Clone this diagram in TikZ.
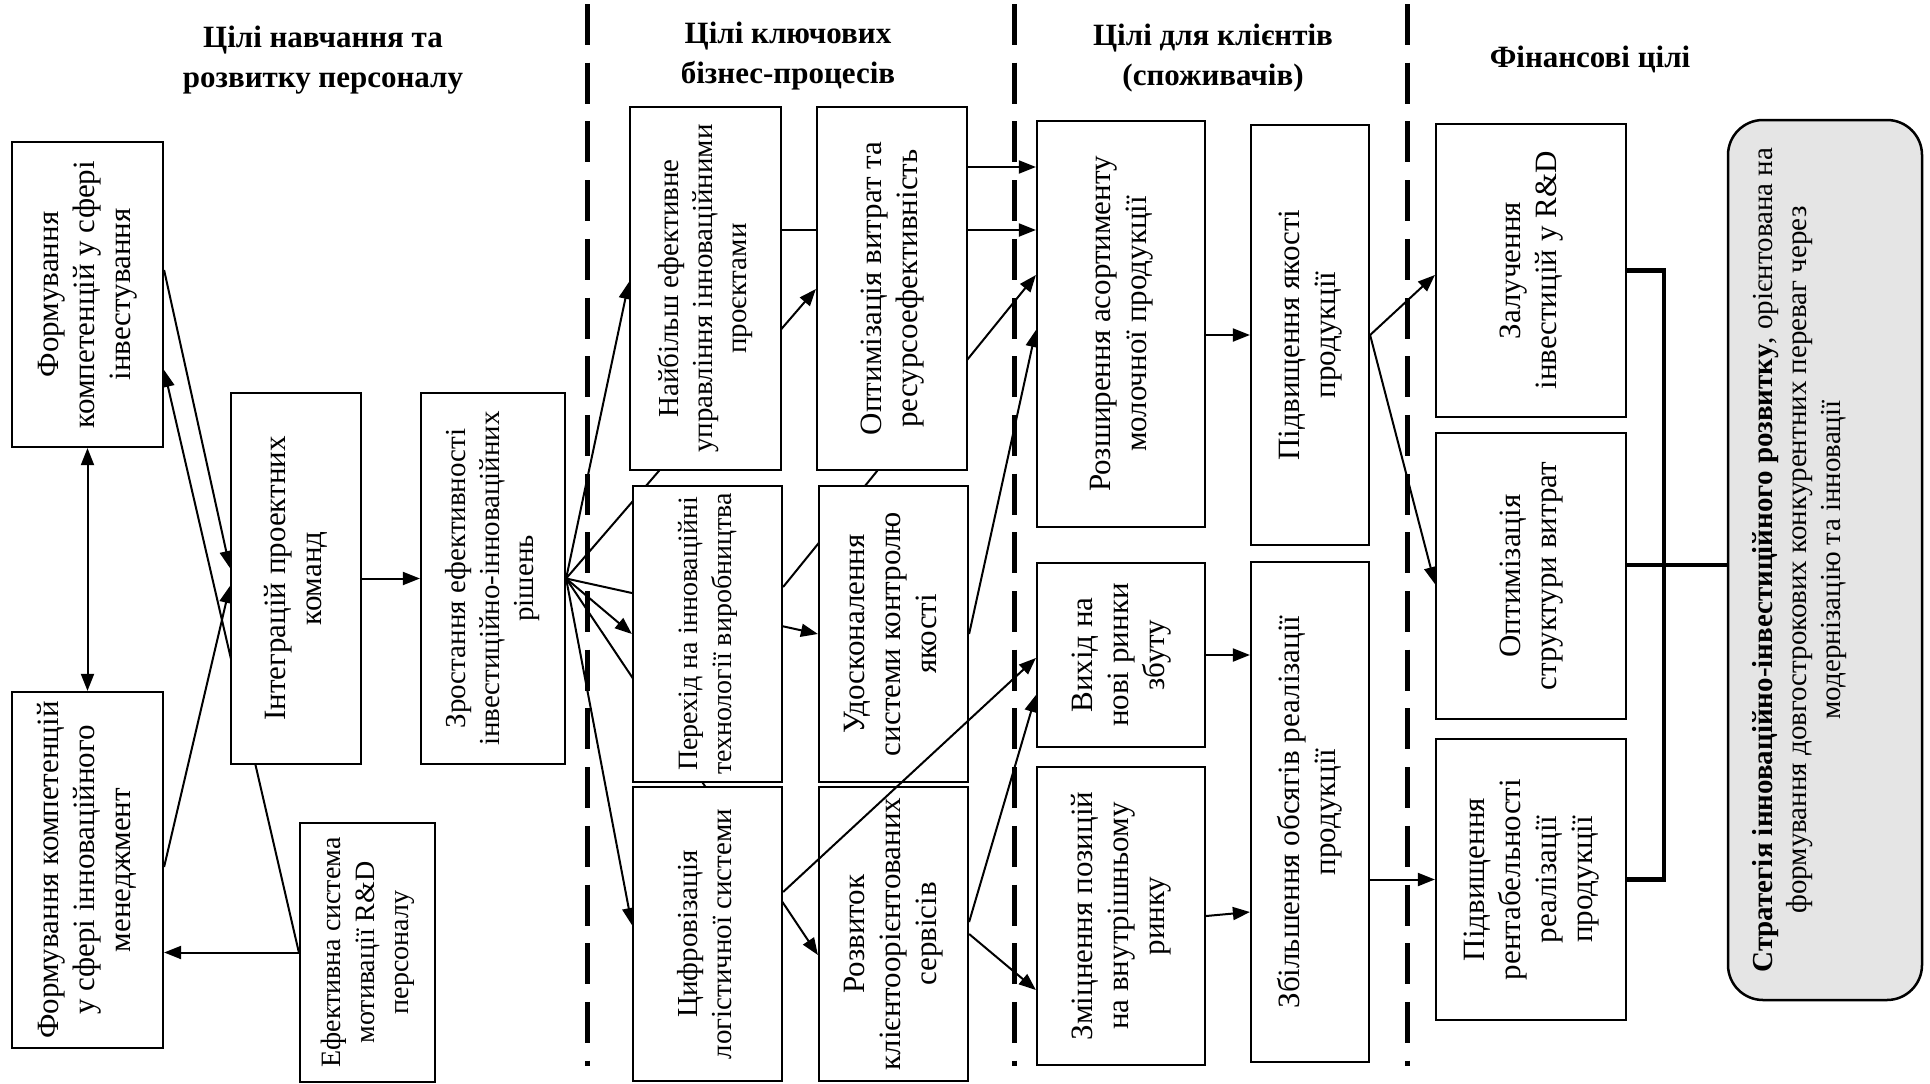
\documentclass[tikz,border=0pt]{standalone}
\usepackage{fontspec}
\setmainfont{Liberation Serif}
\usepackage{graphicx}
\usetikzlibrary{arrows.meta}

\pgfdeclarelayer{bg}
\pgfsetlayers{bg,main}

\newcommand{\vtext}[1]{\rotatebox{90}{\begin{tabular}{@{}c@{}}#1\end{tabular}}}

\tikzset{
  goalbox/.style={draw, line width=2.2pt, fill=white, inner sep=0pt,
    font=\fontsize{31}{36}\selectfont},
  smalltext/.style={font=\fontsize{29}{34}\selectfont},
  tinytext/.style={font=\fontsize{28}{34}\selectfont},
  lanetitle/.style={font=\fontsize{31}{40}\selectfont\bfseries, align=center},
  goalarrow/.style={line width=2pt, -{Triangle[length=17pt,width=13pt]}},
  goalline/.style={line width=2pt},
  lane/.style={line width=5pt, dash pattern=on 41pt off 17.7pt},
  stratbox/.style={draw, line width=2.5pt, fill=black!10, rounded corners=35pt},
  bracket/.style={line width=4.5pt}
}

\begin{document}
\begin{tikzpicture}[x=1pt,y=-1pt]
  \useasboundingbox (0,0) rectangle (1930,1084);

  % lane titles
  \node[lanetitle] (t1) at (323,60) {Цілі навчання та\\розвитку персоналу};
  \node[lanetitle] (t2) at (788,56) {Цілі ключових\\бізнес-процесів};
  \node[lanetitle] (t3) at (1213,58) {Цілі для клієнтів\\(споживачів)};
  \node[lanetitle] (t4) at (1590,59) {Фінансові цілі};

  % staff goals
  \node[goalbox, minimum width=151pt, minimum height=305pt] (A1) at (87.5,294.5)
    {\vtext{Формування\\компетенцій у сфері\\інвестування}};
  \node[goalbox, minimum width=151pt, minimum height=356pt] (A2) at (87.5,870)
    {\vtext{Формування компетенцій\\у сфері інноваційного\\менеджмент}};
  \node[goalbox, minimum width=130pt, minimum height=371pt] (B) at (296,578.5)
    {\vtext{Інтеграцій проектних\\команд}};
  \node[goalbox, smalltext, minimum width=144pt, minimum height=371pt] (C) at (493,578.5)
    {\vtext{Зростання ефективності\\інвестиційно-інноваційних\\рішень}};
  \node[goalbox, tinytext, minimum width=135pt, minimum height=259pt] (D) at (367.5,952.5)
    {\vtext{Ефективна система\\мотивації R\&D\\персоналу}};

  % business processes
  \node[goalbox, smalltext, minimum width=151pt, minimum height=363pt] (E1) at (705.5,288.5)
    {\vtext{Найбільш ефективне\\управління інноваційними\\проєктами}};
  \node[goalbox, tinytext, minimum width=149pt, minimum height=296pt] (E2) at (707.5,634)
    {\vtext{Перехід на інноваційні\\технології виробництва}};
  \node[goalbox, smalltext, minimum width=149pt, minimum height=294pt] (E3) at (707.5,934)
    {\vtext{Цифровізація\\логістичної системи}};
  \node[goalbox, minimum width=150pt, minimum height=363pt] (F1) at (892,288.5)
    {\vtext{Оптимізація витрат та\\ресурсоефективність}};
  \node[goalbox, minimum width=149pt, minimum height=296pt] (F2) at (893.5,634)
    {\vtext{Удосконалення\\системи контролю\\якості}};
  \node[goalbox, minimum width=149pt, minimum height=294pt] (F3) at (893.5,934)
    {\vtext{Розвиток\\клієнтоорієнтованих\\сервісів}};

  % customers
  \node[goalbox, minimum width=168pt, minimum height=406pt] (G1) at (1121,324)
    {\vtext{Розширення асортименту\\молочної продукції}};
  \node[goalbox, minimum width=168pt, minimum height=184pt] (G2) at (1121,655)
    {\vtext{Вихід на\\нові ринки\\збуту}};
  \node[goalbox, minimum width=168pt, minimum height=298pt] (G3) at (1121,916)
    {\vtext{Зміцнення позицій\\на внутрішньому\\ринку}};
  \node[goalbox, minimum width=118pt, minimum height=420pt] (H1) at (1310,335)
    {\vtext{Підвищення якості\\продукції}};
  \node[goalbox, minimum width=118pt, minimum height=500pt] (H2) at (1310,812)
    {\vtext{Збільшення обсягів реалізації\\продукції}};

  % finance
  \node[goalbox, minimum width=190pt, minimum height=293pt] (I1) at (1531,270.5)
    {\vtext{Залучення\\інвестицій у R\&D}};
  \node[goalbox, minimum width=190pt, minimum height=286pt] (I2) at (1531,576)
    {\vtext{Оптимізація\\структури витрат}};
  \node[goalbox, minimum width=190pt, minimum height=281pt] (I3) at (1531,879.5)
    {\vtext{Підвищення\\рентабельності\\реалізації\\продукції}};

  % strategy
  \node[stratbox, minimum width=194pt, minimum height=880pt,
    label={[xshift=-25pt, font=\fontsize{29}{34}\selectfont]center:{\vtext{\textbf{Стратегія інноваційно-інвестиційного розвитку}, орієнтована на\\формування довгострокових конкурентних переваг через\\модернізацію та інновації}}}]
    (J) at (1825,560) {};

  \begin{pgfonlayer}{bg}
    \draw[lane] (587,4) -- (587,1066);
    \draw[lane] (1014,4) -- (1014,1066);
    \draw[lane] (1407,4) -- (1407,1066);

    \draw[line width=2pt, {Triangle[length=17pt,width=13pt]}-{Triangle[length=17pt,width=13pt]}] (A1.south) -- (A2.north);
    \draw[goalarrow] (A1.east |- 0,270) -- (B.west |- 0,568);
    \draw[goalarrow] (A2.east |- 0,867) -- (B.west |- 0,586);
    \draw[goalarrow] (D.west) -- (A1.east |- 0,370);
    \draw[goalarrow] (D.west) -- (D.west -| A2.east);
    \draw[goalarrow] (B.east) -- (C.west);

    \draw[goalarrow] (C.east) -- (E1.west |- 0,282);
    \draw[goalarrow] (C.east) -- (F1.west |- 0,289);
    \draw[goalarrow] (C.east) -- (E2.west);
    \draw[goalarrow] (C.east) -- (F2.west);
    \draw[goalarrow] (C.east) -- (F3.west |- 0,955);
    \draw[goalarrow] (C.east) -- (E3.west |- 0,925);

    \draw[goalarrow] (E1.east |- 0,230) -- (G1.west |- 0,230);
    \draw[goalarrow] (E2.east |- 0,587) -- (G1.west |- 0,275);
    \draw[goalarrow] (F1.east |- 0,167) -- (G1.west |- 0,167);
    \draw[goalarrow] (F2.east) -- (G1.west |- 0,330);
    \draw[goalarrow] (F3.east |- 0,922) -- (G2.west |- 0,695);
    \draw[goalarrow] (F3.east) -- (G3.west |- 0,990);

    \draw[goalarrow] (H1.west -| G1.east) -- (H1.west);
    \draw[goalarrow] (G2.east) -- (G2.east -| H2.west);
    \draw[goalarrow] (G3.east) -- (H2.west |- 0,912);
    \draw[goalarrow] (H1.east) -- (I1.west |- 0,275);
    \draw[goalarrow] (H1.east) -- (I2.west |- 0,584);
    \draw[goalarrow] (I3.west -| H2.east) -- (I3.west);

    \draw[bracket] (I1.east) -- ++(37,0) |- (I3.east);
    \draw[bracket] (I2.east |- 0,565) -- (J.west |- 0,565);
  \end{pgfonlayer}

  \draw[goalarrow] (E3.east |- 0,892) -- (G2.west |- 0,658);
\end{tikzpicture}
\end{document}
